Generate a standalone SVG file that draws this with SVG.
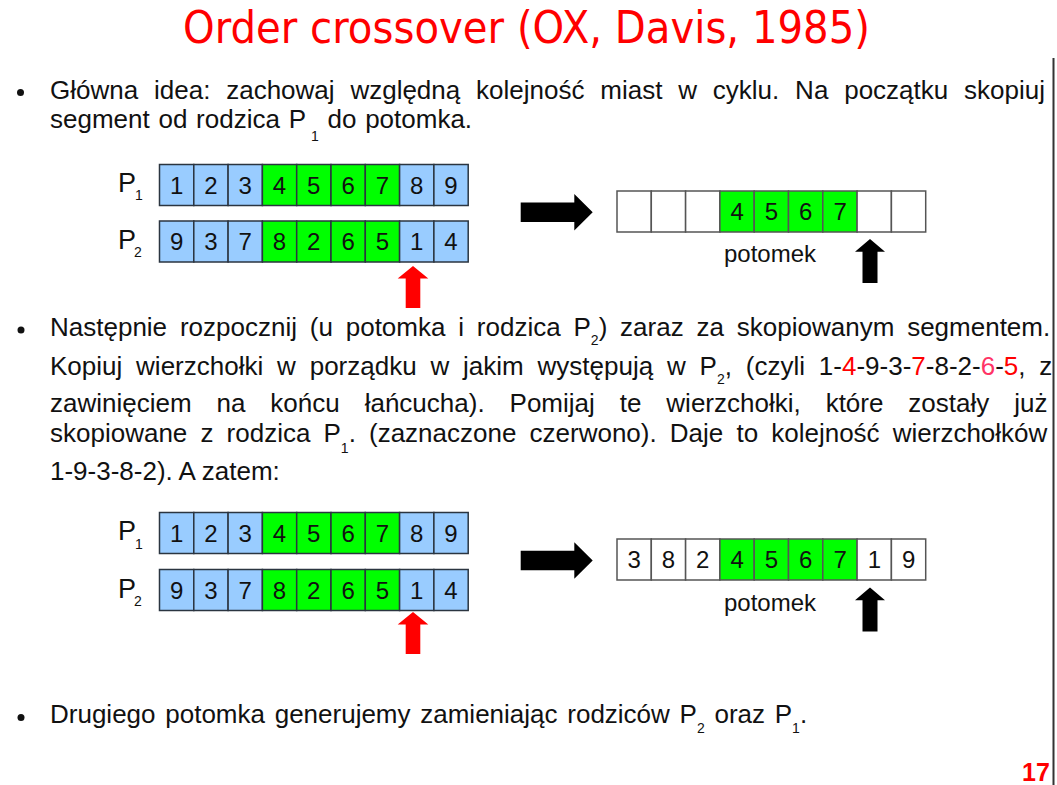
<svg xmlns="http://www.w3.org/2000/svg" width="1057" height="785" viewBox="0 0 1057 785">
  <style>
    .title { font-family: 'Comic Sans MS', 'DejaVu Sans', sans-serif; font-size: 44px; fill: #ff0000; }
    .body { font-family: 'Liberation Sans', Arial, sans-serif; font-size: 26px; fill: #111; }
    .sub { font-size: 14px; }
    .red { fill: #ff0000; }
    .pink { fill: #ff3366; }
    .cell-p { stroke: #2b3540; stroke-width: 1.5; }
    .cell-o { stroke: #555; stroke-width: 1.5; }
    .blue { fill: #99ccff; }
    .green { fill: #00ff00; }
    .white { fill: #ffffff; }
    .num { font-family: 'Liberation Sans', Arial, sans-serif; font-size: 24px; fill: #111; text-anchor: middle; }
    .lbl { font-family: 'Liberation Sans', Arial, sans-serif; font-size: 27px; fill: #111; }
    .lsub { font-family: 'Liberation Sans', Arial, sans-serif; font-size: 14px; fill: #111; }
    .cap { font-family: 'Liberation Sans', Arial, sans-serif; font-size: 24px; fill: #111; text-anchor: middle; }
    .page { font-family: 'Liberation Sans', Arial, sans-serif; font-size: 25px; font-weight: bold; fill: #ff0000; }
  </style>
  <defs>
    <!-- parent chromosome cells (9 genes, 34.3 px each) -->
    <g id="rowP1">
      <rect class="cell-p blue" x="0" y="0" width="34.3" height="41"/>
      <rect class="cell-p blue" x="34.3" y="0" width="34.3" height="41"/>
      <rect class="cell-p blue" x="68.6" y="0" width="34.3" height="41"/>
      <rect class="cell-p green" x="102.9" y="0" width="34.3" height="41"/>
      <rect class="cell-p green" x="137.2" y="0" width="34.3" height="41"/>
      <rect class="cell-p green" x="171.5" y="0" width="34.3" height="41"/>
      <rect class="cell-p green" x="205.8" y="0" width="34.3" height="41"/>
      <rect class="cell-p blue" x="240.1" y="0" width="34.3" height="41"/>
      <rect class="cell-p blue" x="274.4" y="0" width="34.3" height="41"/>
    </g>
    <g id="rowChild">
      <rect class="cell-o white" x="0" y="0" width="34.3" height="41"/>
      <rect class="cell-o white" x="34.3" y="0" width="34.3" height="41"/>
      <rect class="cell-o white" x="68.6" y="0" width="34.3" height="41"/>
      <rect class="cell-o green" x="102.9" y="0" width="34.3" height="41"/>
      <rect class="cell-o green" x="137.2" y="0" width="34.3" height="41"/>
      <rect class="cell-o green" x="171.5" y="0" width="34.3" height="41"/>
      <rect class="cell-o green" x="205.8" y="0" width="34.3" height="41"/>
      <rect class="cell-o white" x="240.1" y="0" width="34.3" height="41"/>
      <rect class="cell-o white" x="274.4" y="0" width="34.3" height="41"/>
    </g>
    <polygon id="arrowRight" points="0,-9.7 53.6,-9.7 53.6,-18.3 72,0 53.6,18.3 53.6,9.7 0,9.7" fill="#000"/>
    <polygon id="arrowUp" points="0,0 15,12.7 7.5,12.7 7.5,44 -7.5,44 -7.5,12.7 -15,12.7" fill="#000"/>
    <polygon id="arrowUpRed" points="0,0 15.3,12.5 7.3,12.5 7.3,42 -7.3,42 -7.3,12.5 -15.3,12.5" fill="#ff0000"/>
  </defs>

  <rect x="0" y="0" width="1057" height="785" fill="#ffffff"/>
  <line x1="1053.5" y1="58" x2="1053.5" y2="785" stroke="#333" stroke-width="2"/>

  <g id="title">
    <text class="title" x="183" y="43" textLength="687" lengthAdjust="spacingAndGlyphs">Order crossover (OX, Davis, 1985)</text>
  </g>

  <!-- first bullet -->
  <g id="para1">
    <circle cx="20.5" cy="92.5" r="3.5" fill="#111"/>
    <text class="body" x="50" y="99" word-spacing="8.6">Główna idea: zachowaj względną kolejność miast w cyklu. Na początku skopiuj</text>
    <text class="body" x="50" y="128" word-spacing="1.5">segment od rodzica P<tspan class="sub" dx="5" dy="13">1</tspan><tspan dy="-13"> do potomka.</tspan></text>
  </g>

  <!-- second bullet -->
  <g id="para2">
    <circle cx="21" cy="330" r="3.5" fill="#111"/>
    <text class="body" x="50" y="335.5" word-spacing="5.6">Następnie rozpocznij (u potomka i rodzica P<tspan class="sub" dy="9">2</tspan><tspan dy="-9">) zaraz za skopiowanym segmentem.</tspan></text>
    <text class="body" x="50" y="375" word-spacing="6.6">Kopiuj wierzchołki w porządku w jakim występują w P<tspan class="sub" dy="9">2</tspan><tspan dy="-9">, (czyli 1-</tspan><tspan class="red">4</tspan>-9-3-<tspan class="red">7</tspan>-8-2-<tspan class="pink">6</tspan>-<tspan class="red">5</tspan>, z</text>
    <text class="body" x="50" y="412" word-spacing="17.7">zawinięciem na końcu łańcucha). Pomijaj te wierzchołki, które zostały już</text>
    <text class="body" x="50" y="442" word-spacing="5.9">skopiowane z rodzica P<tspan class="sub" dy="11">1</tspan><tspan dy="-11">. (zaznaczone czerwono). Daje to kolejność wierzchołków</tspan></text>
    <text class="body" x="50" y="480">1-9-3-8-2). A zatem:</text>
  </g>

  <!-- third bullet -->
  <g id="para3">
    <circle cx="21" cy="717.5" r="3.5" fill="#111"/>
    <text class="body" x="50" y="723" word-spacing="2.5">Drugiego potomka generujemy zamieniając rodziców P<tspan class="sub" dy="10">2</tspan><tspan dy="-10"> oraz P</tspan><tspan class="sub" dy="10">1</tspan><tspan dy="-10">.</tspan></text>
  </g>

  <!-- step 1: copy the segment -->
  <g id="parents1">
    <text class="lbl" x="118" y="192">P</text><text class="lsub" x="135" y="200">1</text>
    <text class="lbl" x="118" y="248.5">P</text><text class="lsub" x="134" y="257">2</text>
    <use href="#rowP1" x="159.5" y="164.5"/>
    <use href="#rowP1" x="159.5" y="221"/>
    <g class="num">
      <text x="176.6" y="193.5">1</text><text x="210.9" y="193.5">2</text><text x="245.2" y="193.5">3</text>
      <text x="279.5" y="193.5">4</text><text x="313.8" y="193.5">5</text><text x="348.1" y="193.5">6</text>
      <text x="382.4" y="193.5">7</text><text x="416.7" y="193.5">8</text><text x="451" y="193.5">9</text>
      <text x="176.6" y="250">9</text><text x="210.9" y="250">3</text><text x="245.2" y="250">7</text>
      <text x="279.5" y="250">8</text><text x="313.8" y="250">2</text><text x="348.1" y="250">6</text>
      <text x="382.4" y="250">5</text><text x="416.7" y="250">1</text><text x="451" y="250">4</text>
    </g>
  </g>
  <g id="child1">
    <use href="#rowChild" x="617" y="191"/>
    <g class="num">
      <text x="737.2" y="220">4</text><text x="771.5" y="220">5</text><text x="805.8" y="220">6</text><text x="840.1" y="220">7</text>
    </g>
    <text class="cap" x="770" y="262">potomek</text>
  </g>

  <!-- step 2: fill the rest in P2 order -->
  <g id="parents2">
    <text class="lbl" x="118" y="540">P</text><text class="lsub" x="135" y="548.5">1</text>
    <text class="lbl" x="118" y="598">P</text><text class="lsub" x="134" y="606">2</text>
    <use href="#rowP1" x="159.5" y="512.5"/>
    <use href="#rowP1" x="159.5" y="569.5"/>
    <g class="num">
      <text x="176.6" y="541.5">1</text><text x="210.9" y="541.5">2</text><text x="245.2" y="541.5">3</text>
      <text x="279.5" y="541.5">4</text><text x="313.8" y="541.5">5</text><text x="348.1" y="541.5">6</text>
      <text x="382.4" y="541.5">7</text><text x="416.7" y="541.5">8</text><text x="451" y="541.5">9</text>
      <text x="176.6" y="598.5">9</text><text x="210.9" y="598.5">3</text><text x="245.2" y="598.5">7</text>
      <text x="279.5" y="598.5">8</text><text x="313.8" y="598.5">2</text><text x="348.1" y="598.5">6</text>
      <text x="382.4" y="598.5">5</text><text x="416.7" y="598.5">1</text><text x="451" y="598.5">4</text>
    </g>
  </g>
  <g id="child2">
    <use href="#rowChild" x="617" y="539"/>
    <g class="num">
      <text x="634.1" y="568">3</text><text x="668.4" y="568">8</text><text x="702.7" y="568">2</text>
      <text x="737.2" y="568">4</text><text x="771.5" y="568">5</text><text x="805.8" y="568">6</text><text x="840.1" y="568">7</text>
      <text x="874.4" y="568">1</text><text x="908.7" y="568">9</text>
    </g>
    <text class="cap" x="770" y="611">potomek</text>
  </g>

  <g id="connectors">
    <use href="#arrowRight" x="520.7" y="212.2"/>
    <use href="#arrowRight" x="520.7" y="560.5"/>
    <use href="#arrowUpRed" x="413" y="266"/>
    <use href="#arrowUpRed" x="413" y="612"/>
    <use href="#arrowUp" x="870" y="239"/>
    <use href="#arrowUp" x="870" y="587.5"/>
  </g>

  <text class="page" x="1022" y="781">17</text>
</svg>
